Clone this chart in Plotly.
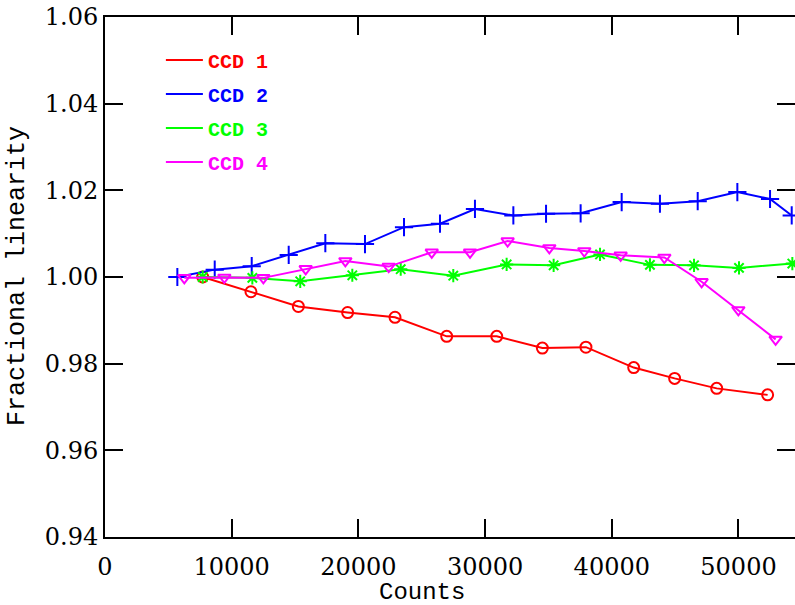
import plotly.graph_objects as go

# ---- data ----
ccd1_x = [7710, 11520, 15260, 19150, 22890, 26970, 30920, 34520, 37960, 41730, 44960, 48280, 52300]
ccd1_y = [1.0000, 0.9966, 0.9932, 0.9918, 0.9907, 0.9863, 0.9863, 0.9836, 0.9838, 0.9791, 0.9766, 0.9743, 0.9728]

ccd2_x = [5710, 8660, 11580, 14500, 17390, 20520, 23600, 26440, 29200, 32230, 34810, 37540, 40780, 43800, 46780, 49910, 52490, 54200]
ccd2_y = [1.0000, 1.0017, 1.0025, 1.0051, 1.0078, 1.0076, 1.0115, 1.0123, 1.0157, 1.0142, 1.0146, 1.0147, 1.0173, 1.0169, 1.0175, 1.0196, 1.0180, 1.0142]

ccd3_x = [7710, 11630, 15410, 19520, 23340, 27490, 31700, 35410, 39070, 43010, 46490, 50040, 54250]
ccd3_y = [1.0000, 0.9998, 0.9990, 1.0004, 1.0018, 1.0003, 1.0029, 1.0027, 1.0052, 1.0028, 1.0027, 1.0021, 1.0031]

ccd4_x = [6260, 9420, 12500, 15840, 18970, 22390, 25790, 28810, 31780, 35070, 37830, 40700, 44150, 47090, 49990, 52930]
ccd4_y = [0.9998, 0.9999, 0.9998, 1.0019, 1.0037, 1.0024, 1.0057, 1.0057, 1.0083, 1.0067, 1.0060, 1.0050, 1.0045, 0.9989, 0.9924, 0.9856]

names = ["CCD 1", "CCD 2", "CCD 3", "CCD 4"]
colors = ["#ff0000", "#0000ff", "#00ff00", "#ff00ff"]
symbols = ["circle-open", "cross-thin-open", "asterisk-open", "triangle-down-open"]
sizes = [11, 13, 11, 11]

x_ticks = [0, 10000, 20000, 30000, 40000, 50000]
y_ticks = [0.94, 0.96, 0.98, 1.00, 1.02, 1.04, 1.06]
x_title = "Counts"
y_title = "Fractional linearity"

series = [(ccd1_x, ccd1_y), (ccd2_x, ccd2_y), (ccd3_x, ccd3_y), (ccd4_x, ccd4_y)]

fig = go.Figure()
for (xs, ys), name, col, sym, sz in zip(series, names, colors, symbols, sizes):
    fig.add_trace(go.Scatter(
        x=xs, y=ys, mode="lines+markers", showlegend=False,
        line=dict(color=col, width=2),
        marker=dict(symbol=sym, size=sz, color=col, line=dict(color=col, width=2)),
    ))
# legend entries (line only, coloured text)
for i, (name, col) in enumerate(zip(names, colors)):
    fig.add_trace(go.Scatter(
        x=[None], y=[None], mode="lines", legendgroup=f"g{i}",
        name=f"<span style='color:{col}'><b>{name}</b></span>",
        line=dict(color=col, width=2),
    ))

axis_common = dict(
    automargin=False,
    showgrid=False, zeroline=False, showline=True, linecolor="black", linewidth=2,
    mirror="ticks", ticks="inside", ticklen=18, tickwidth=2, tickcolor="black",
    tickfont=dict(family="DejaVu Serif", size=24, color="black"),
)

fig.update_layout(
    template="none",
    width=795, height=605,
    margin=dict(l=105, r=0, t=17, b=68, pad=0),
    paper_bgcolor="white", plot_bgcolor="white",
    xaxis=dict(range=[0, 54460], tickvals=x_ticks, tickformat="d",
               ticklabelstandoff=7, **axis_common),
    yaxis=dict(range=[0.94, 1.06], tickvals=y_ticks, tickformat=".2f", **axis_common),
    legend=dict(x=0.081, y=0.955, xanchor="left", yanchor="top", itemwidth=37,
                bgcolor="rgba(0,0,0,0)", tracegroupgap=5, borderwidth=0,
                font=dict(family="Liberation Mono", size=20, color="black")),
    annotations=[
        dict(text=x_title, xref="paper", yref="paper", x=0.459, y=-0.106,
             xanchor="center", yanchor="middle", showarrow=False,
             font=dict(family="Liberation Mono", size=24, color="black")),
        dict(text=y_title, xref="paper", yref="paper", x=-0.1261, y=0.502,
             xanchor="center", yanchor="middle", textangle=-90, showarrow=False,
             font=dict(family="Liberation Mono", size=25, color="black")),
    ],
)

fig.write_html(
    "out.html",
    config={"displayModeBar": False},
    post_script="document.body.style.margin='0';document.body.style.overflow='hidden';",
)
